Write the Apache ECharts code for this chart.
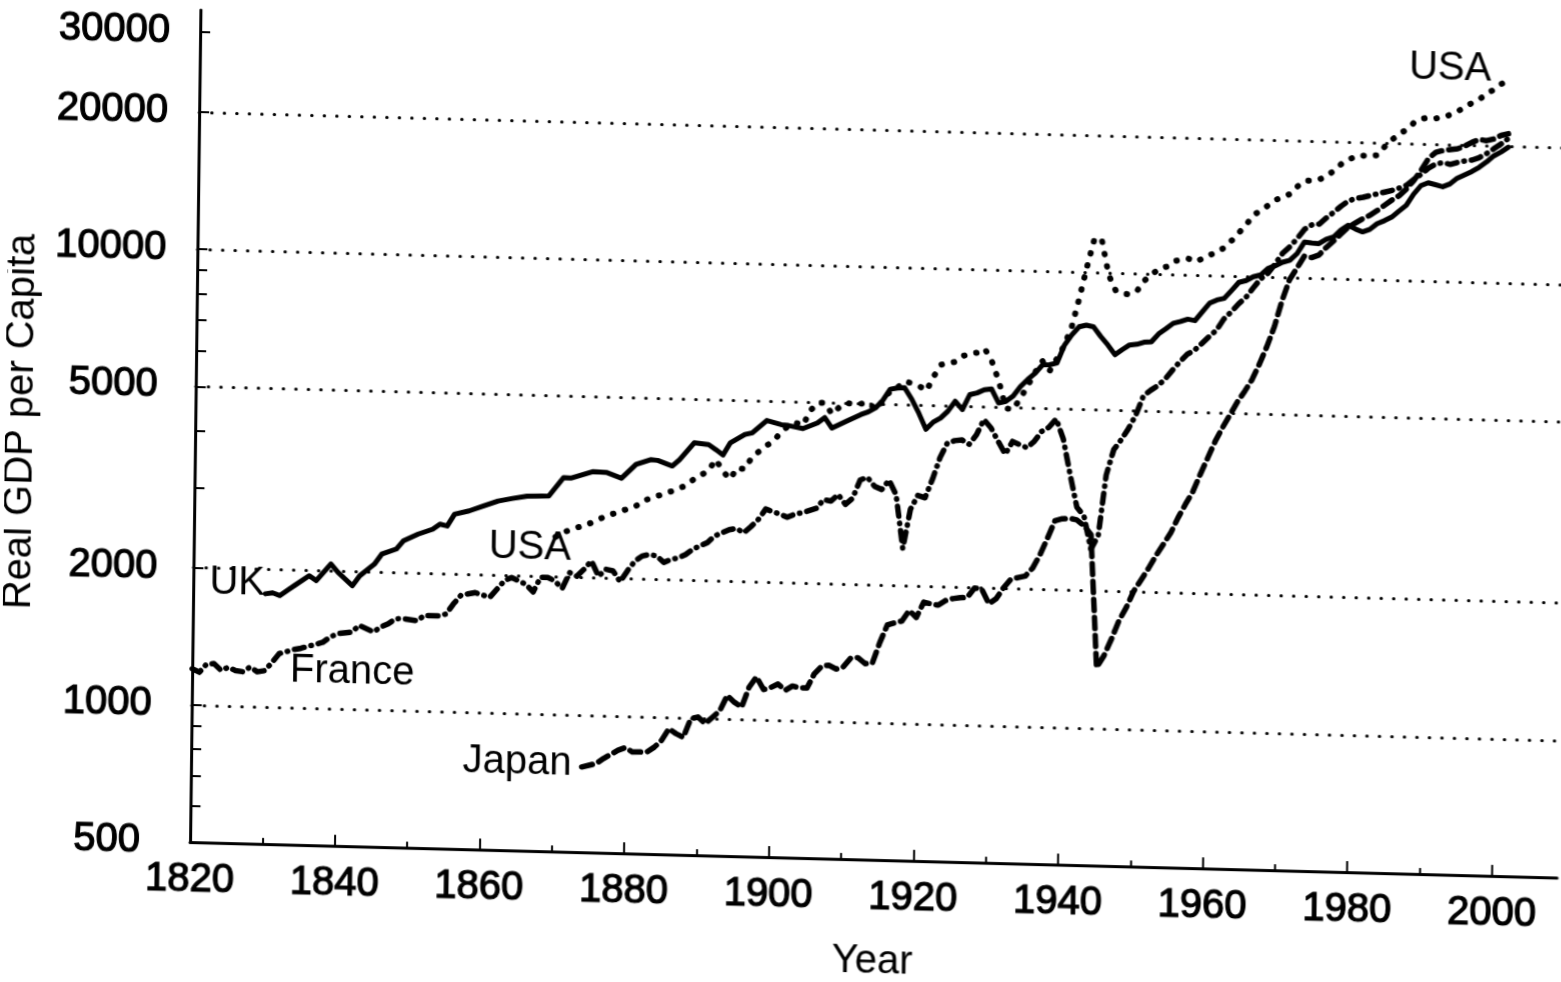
<!DOCTYPE html>
<html>
<head>
<meta charset="utf-8">
<title>Real GDP per Capita</title>
<script src="https://cdn.jsdelivr.net/npm/echarts@6.0.0/dist/echarts.min.js"></script>
<style>
html, body { margin:0; padding:0; background:#fff; overflow:hidden; }
/* the scanned figure sits slightly rotated/skewed on the page */
#main { width:1561px; height:982px; transform-origin:190px 842px; transform:matrix(1,0.026,-0.0125,1,0,0); }
</style>
</head>
<body>
<div id="main"></div>
<script>
// tick labels / tick positions
var yearLabels = [1820,1840,1860,1880,1900,1920,1940,1960,1980,2000];
var yearTicks = [1840,1860,1880,1900,1920,1940,1960,1980,2000];
var yearMinorTicks = [1830,1850,1870,1890,1910,1930,1950,1970,1990];
var gdpLabels = [500,1000,2000,5000,10000,20000,30000];
var gdpGridTicks = [1000,2000,5000,10000,20000];
var gdpMinorTicks = [600,700,800,900,3000,4000,6000,7000,8000,9000,30000];

// [year, real GDP per capita]
var ukData = [[1830,1770],[1831,1780],[1832,1757],[1833,1805],[1834,1852],[1836,1950],[1837,1904],[1839,2075],[1840,1991],[1842,1864],[1843,1962],[1845,2085],[1846,2196],[1848,2257],[1849,2357],[1851,2441],[1853,2507],[1854,2574],[1855,2553],[1856,2713],[1858,2763],[1860,2838],[1862,2916],[1864,2960],[1866,3000],[1868,3008],[1869,3010],[1871,3310],[1872,3305],[1875,3423],[1877,3415],[1879,3325],[1881,3573],[1883,3665],[1884,3655],[1886,3560],[1887,3680],[1889,4015],[1891,3985],[1892,3890],[1893,3790],[1894,4035],[1896,4216],[1897,4255],[1899,4537],[1901,4450],[1902,4435],[1904,4375],[1906,4510],[1907,4640],[1908,4405],[1910,4570],[1912,4735],[1913,4800],[1914,4905],[1915,5100],[1916,5400],[1917,5440],[1918,5450],[1919,5150],[1920,4800],[1921,4430],[1922,4600],[1923,4700],[1924,4870],[1925,5125],[1926,4920],[1927,5310],[1928,5360],[1929,5450],[1930,5480],[1931,5110],[1932,5155],[1933,5300],[1934,5570],[1935,5780],[1936,5968],[1937,6230],[1938,6240],[1939,6300],[1940,6900],[1941,7275],[1942,7590],[1943,7660],[1944,7600],[1945,7250],[1946,6950],[1947,6620],[1948,6800],[1949,6970],[1950,7000],[1951,7080],[1952,7100],[1953,7400],[1954,7600],[1955,7820],[1956,7900],[1957,8000],[1958,7950],[1959,8320],[1960,8700],[1961,8850],[1962,8930],[1963,9300],[1964,9700],[1965,9800],[1966,10000],[1967,10100],[1968,10450],[1969,10600],[1970,10800],[1971,10920],[1972,11300],[1973,12000],[1974,11950],[1975,11920],[1976,12200],[1977,12350],[1978,12800],[1979,13130],[1980,12900],[1981,12720],[1982,12900],[1983,13290],[1984,13500],[1985,13760],[1986,14200],[1987,14630],[1988,15500],[1989,16200],[1990,16450],[1991,16300],[1992,16150],[1993,16400],[1994,16900],[1995,17200],[1996,17500],[1997,17900],[1998,18400],[1999,19000],[2000,19400],[2001,19890]];

var usaData = [[1870,2450],[1871,2508],[1873,2580],[1874,2600],[1875,2650],[1877,2743],[1879,2815],[1881,2890],[1882,2973],[1884,3054],[1886,3135],[1888,3235],[1889,3340],[1891,3490],[1892,3702],[1893,3495],[1894,3355],[1895,3560],[1896,3535],[1897,3763],[1898,3880],[1899,4000],[1900,4090],[1901,4300],[1902,4420],[1903,4500],[1904,4450],[1905,4800],[1906,4990],[1907,5000],[1908,4725],[1909,4900],[1910,5010],[1911,4985],[1912,5000],[1913,5030],[1914,4870],[1915,5080],[1916,5350],[1917,5450],[1918,5630],[1919,5580],[1920,5510],[1921,5380],[1922,5800],[1923,6155],[1924,6200],[1925,6260],[1926,6450],[1927,6530],[1928,6570],[1929,6710],[1930,6300],[1931,5700],[1932,4980],[1933,4950],[1934,5250],[1935,5600],[1936,6000],[1937,6350],[1938,6050],[1939,6450],[1940,6900],[1941,7600],[1942,8800],[1943,10300],[1944,11900],[1945,11800],[1946,9900],[1947,9150],[1948,9020],[1949,9000],[1950,9200],[1951,9690],[1952,10000],[1953,10290],[1954,10400],[1955,10700],[1956,10800],[1957,10860],[1958,10700],[1959,10900],[1960,11100],[1961,11300],[1962,11550],[1963,12000],[1964,12500],[1965,13050],[1966,13700],[1967,14000],[1968,14400],[1969,14800],[1970,15010],[1971,15280],[1972,15900],[1973,16350],[1974,16400],[1975,16500],[1976,16800],[1977,17300],[1978,17900],[1979,18300],[1980,18650],[1981,18700],[1982,18650],[1983,18800],[1984,19700],[1985,20400],[1986,21000],[1987,21500],[1988,22300],[1989,22700],[1990,22900],[1991,22800],[1992,22930],[1993,23300],[1994,23700],[1995,24300],[1996,24800],[1997,25300],[1998,26000],[1999,26630],[2000,27400],[2001,27960]];

var franceData = [[1820,1200],[1821,1180],[1822,1232],[1823,1235],[1824,1195],[1825,1215],[1826,1195],[1827,1190],[1828,1220],[1829,1192],[1830,1200],[1831,1250],[1832,1310],[1833,1325],[1834,1340],[1835,1350],[1837,1380],[1838,1395],[1839,1434],[1840,1460],[1842,1475],[1843,1527],[1845,1480],[1846,1520],[1847,1545],[1848,1586],[1849,1590],[1851,1575],[1852,1620],[1854,1620],[1855,1636],[1856,1724],[1857,1800],[1858,1816],[1859,1830],[1861,1790],[1863,1950],[1864,1985],[1866,1920],[1867,1850],[1868,1995],[1869,1995],[1870,1960],[1871,1890],[1872,2050],[1873,2015],[1874,2090],[1875,2180],[1876,2020],[1877,2095],[1878,2080],[1879,1970],[1880,2085],[1881,2190],[1882,2250],[1883,2270],[1884,2255],[1885,2185],[1886,2220],[1887,2240],[1888,2280],[1889,2345],[1891,2430],[1892,2515],[1894,2600],[1895,2620],[1896,2565],[1897,2650],[1898,2750],[1899,2900],[1901,2830],[1902,2790],[1903,2835],[1904,2860],[1906,2930],[1907,3065],[1908,3045],[1909,3150],[1910,3000],[1911,3100],[1912,3400],[1913,3450],[1914,3300],[1915,3250],[1916,3410],[1917,3170],[1918,2420],[1919,2950],[1920,3170],[1921,3135],[1922,3450],[1923,3850],[1924,4150],[1925,4200],[1926,4220],[1927,4130],[1928,4340],[1929,4690],[1930,4500],[1931,4210],[1932,3950],[1933,4215],[1934,4150],[1935,4090],[1936,4230],[1937,4450],[1938,4550],[1939,4750],[1940,4300],[1941,3600],[1942,3050],[1943,2920],[1944,2470],[1945,2650],[1946,3600],[1947,4100],[1948,4310],[1949,4570],[1950,4900],[1951,5400],[1952,5560],[1953,5700],[1954,5900],[1955,6180],[1956,6450],[1957,6700],[1958,6850],[1959,7090],[1960,7350],[1961,7600],[1962,8050],[1963,8350],[1964,8700],[1965,9000],[1966,9450],[1967,9900],[1968,10200],[1969,10700],[1970,11300],[1971,11700],[1972,12200],[1973,12800],[1974,13100],[1975,13150],[1976,13600],[1977,14000],[1978,14450],[1979,14850],[1980,15050],[1981,15150],[1982,15300],[1983,15450],[1984,15600],[1985,15750],[1986,15950],[1987,16200],[1988,16700],[1989,17150],[1990,17700],[1991,18100],[1992,18250],[1993,18100],[1994,18300],[1995,18450],[1996,18550],[1997,18800],[1998,19200],[1999,19700],[2000,20200],[2001,20800]];

var japanData = [[1874,769],[1876,784],[1877,805],[1879,841],[1880,853],[1881,835],[1883,837],[1884,858],[1885,889],[1886,944],[1887,921],[1888,905],[1889,995],[1890,1005],[1891,973],[1892,1006],[1893,1040],[1894,1125],[1895,1088],[1896,1062],[1897,1176],[1898,1240],[1899,1165],[1900,1178],[1901,1200],[1902,1163],[1903,1190],[1904,1180],[1905,1180],[1906,1270],[1907,1320],[1908,1328],[1909,1304],[1910,1320],[1911,1380],[1912,1385],[1913,1345],[1914,1350],[1915,1500],[1916,1640],[1917,1660],[1918,1676],[1919,1770],[1920,1710],[1921,1850],[1922,1835],[1923,1825],[1924,1870],[1925,1890],[1926,1900],[1927,1905],[1928,2000],[1929,1990],[1930,1850],[1931,1900],[1932,2010],[1933,2100],[1934,2120],[1935,2140],[1936,2230],[1937,2390],[1938,2600],[1939,2840],[1940,2870],[1941,2880],[1942,2860],[1943,2780],[1944,2660],[1945,1360],[1946,1445],[1947,1573],[1948,1727],[1949,1850],[1950,2010],[1951,2130],[1952,2260],[1953,2410],[1954,2555],[1955,2710],[1956,2930],[1957,3140],[1958,3350],[1959,3660],[1960,3980],[1961,4330],[1962,4650],[1963,4960],[1964,5300],[1965,5600],[1966,5950],[1967,6450],[1968,7050],[1969,7800],[1970,8900],[1971,9900],[1972,10500],[1973,11170],[1974,11100],[1975,11250],[1976,11700],[1977,12100],[1978,12550],[1979,13000],[1980,13300],[1981,13600],[1982,13850],[1983,14200],[1984,14600],[1985,15000],[1986,15350],[1987,15900],[1988,16600],[1989,17500],[1990,18600],[1991,19200],[1992,19400],[1993,19500],[1994,19600],[1995,19900],[1996,20300],[1997,20600],[1998,20500],[1999,20700],[2000,21100],[2001,21300]];

var FONT = '"Liberation Sans", Arial, Helvetica, sans-serif';

// extra gap (px) between each y label and the axis, as in the scan
var yLabelShift = {500:20, 1000:10, 2000:6, 5000:8, 10000:1, 20000:1, 30000:0};
var yRich = {};
for (var k in yLabelShift) {
    yRich['s' + k] = { padding:[0, yLabelShift[k], 0, 0], color:'#000', fontSize:40, fontFamily:FONT, textBorderColor:'#000', textBorderWidth:1.2 };
}

function plainNum(v){ return String(Math.round(typeof v === 'object' ? v.value : v)); }
function yLabel(v){ var n = plainNum(v); return '{s' + n + '|' + n + '}'; }

function lineSeries(name, data, type, width){
    return {
        name: name,
        type: 'line',
        data: data,
        symbol: 'none',
        showSymbol: false,
        smooth: false,
        lineStyle: { color:'#000', width: width, type: type, cap:'round', join:'round' },
        emphasis: { disabled: true }
    };
}

function labelText(text, x, y){
    return {
        type: 'text', x: x, y: y, z: 100,
        style: { text: text, fill:'#000', font: '40px ' + FONT, align:'center', verticalAlign:'middle', textAlign:'center', textVerticalAlign:'middle' }
    };
}

var myChart = echarts.init(document.getElementById('main'));
var option = {
    backgroundColor: '#fff',
    animation: false,
    grid: { left:190, right:4, top:10, bottom:140, containLabel:false, outerBoundsMode:'none' },
    xAxis: [{
        type:'value', min:1820, max:2009,
        name:'Year', nameLocation:'middle', nameGap:82,
        nameTextStyle:{ color:'#000', fontSize:40, fontFamily:FONT },
        axisLine:{ show:true, lineStyle:{ color:'#000', width:3 } },
        axisTick:{ show:true, inside:true, length:11, customValues:yearTicks, lineStyle:{ color:'#000', width:2 } },
        axisLabel:{ customValues:yearLabels, color:'#000', fontSize:40, fontFamily:FONT, textBorderColor:'#000', textBorderWidth:1.2, margin:18, formatter:plainNum },
        splitLine:{ show:false }
    }, {
        type:'value', min:1820, max:2009, position:'bottom',
        axisLine:{ show:false },
        axisTick:{ show:true, inside:true, length:6, customValues:yearMinorTicks, lineStyle:{ color:'#000', width:2 } },
        axisLabel:{ show:false },
        splitLine:{ show:false }
    }],
    yAxis: [{
        type:'log', logBase:10, min:500, max:33500,
        name:'Real GDP per Capita', nameLocation:'middle', nameGap:140, nameRotate:90,
        nameTextStyle:{ color:'#000', fontSize:40, fontFamily:FONT },
        axisLine:{ show:true, lineStyle:{ color:'#000', width:3 } },
        axisTick:{ show:true, inside:true, length:10, customValues:gdpGridTicks, lineStyle:{ color:'#000', width:2 } },
        axisLabel:{ customValues:gdpLabels, color:'#000', fontSize:40, fontFamily:FONT, margin:30, formatter:yLabel, rich:yRich },
        splitLine:{ show:true, lineStyle:{ color:'#000', width:3, type:[0.5, 12], cap:'round' } }
    }, {
        type:'log', logBase:10, min:500, max:33500, position:'left',
        axisLine:{ show:false },
        axisTick:{ show:true, inside:true, length:10, customValues:gdpMinorTicks, lineStyle:{ color:'#000', width:2 } },
        axisLabel:{ show:false },
        splitLine:{ show:false }
    }],
    series: [
        lineSeries('UK', ukData, 'solid', 5),
        lineSeries('USA', usaData, [0.5, 12], 6),
        lineSeries('France', franceData, [10, 7, 0.5, 7], 5.5),
        lineSeries('Japan', japanData, [11, 7], 5.5)
    ],
    graphic: [
        labelText('USA', 1440, 36),
        labelText('UK', 234, 582),
        labelText('USA', 526, 539),
        labelText('France', 350, 668),
        labelText('Japan', 516, 754)
    ]
};
myChart.setOption(option, true);
</script>
</body>
</html>
